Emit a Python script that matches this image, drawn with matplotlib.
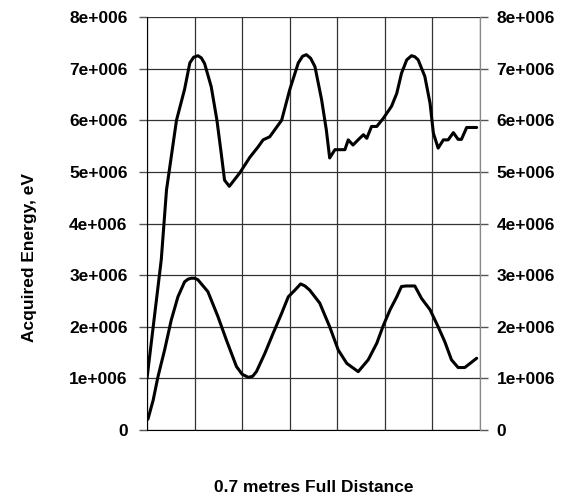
import matplotlib
matplotlib.use("Agg")
import matplotlib.pyplot as plt
from matplotlib.ticker import FuncFormatter, MultipleLocator

plt.rcParams['font.family'] = ['Liberation Sans', 'DejaVu Sans']

# distance in grid intervals (7 intervals = 0.7 m), energy in MeV
upper_x = [0.0, 0.30, 0.41, 0.62, 0.79, 0.90, 0.98, 1.07, 1.14, 1.21, 1.35, 1.47, 1.56, 1.63,
           1.73, 1.95, 2.16, 2.34, 2.44, 2.58, 2.83, 3.0, 3.18, 3.27, 3.35, 3.44, 3.53, 3.67,
           3.77, 3.84, 3.95, 4.16, 4.23, 4.33, 4.47, 4.55, 4.62, 4.72, 4.83, 4.97,
           5.14, 5.25, 5.35, 5.46, 5.56, 5.63, 5.70, 5.84, 5.95, 6.02, 6.12, 6.23, 6.33,
           6.44, 6.54, 6.61, 6.72, 6.93]
upper_e = [1.0, 3.3, 4.65, 6.0, 6.6, 7.11, 7.22, 7.25, 7.21, 7.1, 6.65, 6.0, 5.36, 4.84,
           4.72, 4.98, 5.28, 5.49, 5.62, 5.68, 6.0, 6.59, 7.11, 7.24, 7.27, 7.2, 7.04, 6.40,
           5.81, 5.27, 5.43, 5.43, 5.62, 5.52, 5.65, 5.72, 5.65, 5.88, 5.88, 6.04,
           6.27, 6.52, 6.91, 7.17, 7.25, 7.23, 7.17, 6.85, 6.33, 5.75, 5.46, 5.62, 5.62,
           5.76, 5.63, 5.63, 5.86, 5.86]

lower_x = [0.02, 0.13, 0.23, 0.37, 0.51, 0.65, 0.79, 0.86, 0.93, 1.0, 1.07, 1.28, 1.49, 1.67,
           1.88, 2.0, 2.13, 2.22, 2.30, 2.48, 2.65, 2.83, 2.97, 3.11, 3.23, 3.32, 3.42, 3.63, 3.84,
           4.02, 4.20, 4.44, 4.65, 4.83, 4.97, 5.11, 5.25, 5.35, 5.45, 5.63, 5.77, 5.95,
           6.12, 6.26, 6.40, 6.54, 6.68, 6.93]
lower_e = [0.21, 0.58, 1.03, 1.55, 2.13, 2.58, 2.87, 2.92, 2.94, 2.94, 2.91, 2.68, 2.20, 1.74,
           1.23, 1.08, 1.02, 1.04, 1.13, 1.49, 1.87, 2.26, 2.58, 2.71, 2.83, 2.79, 2.71, 2.46, 2.0,
           1.55, 1.29, 1.13, 1.36, 1.68, 2.03, 2.33, 2.58, 2.78, 2.79, 2.79, 2.55, 2.33,
           2.0, 1.71, 1.36, 1.21, 1.21, 1.39]

n_intervals = 7
y_max = 8e6


def excel_fmt(v, pos):
    if v == 0:
        return "0"
    return f"{int(round(v / 1e6))}e+006"


fig = plt.figure(figsize=(5.68, 4.98), dpi=100)
ax = fig.add_axes([147 / 568, 1 - 430 / 498, 333 / 568, 413 / 498])

ax.plot(upper_x, [e * 1e6 for e in upper_e], color="black", lw=2.2,
        solid_joinstyle="round", solid_capstyle="round")
ax.plot(lower_x, [e * 1e6 for e in lower_e], color="black", lw=2.2,
        solid_joinstyle="round", solid_capstyle="round")

ax.set_xlim(0, n_intervals)
ax.set_ylim(0, y_max)
ax.xaxis.set_major_locator(MultipleLocator(1))
ax.yaxis.set_major_locator(MultipleLocator(1e6))
ax.yaxis.set_major_formatter(FuncFormatter(excel_fmt))
ax.tick_params(axis="x", length=0, labelbottom=False)
ax.tick_params(axis="y", direction="out", length=6, width=1, color="#555555",
               labelsize=12.5, pad=8)
for lab in ax.get_yticklabels():
    lab.set_fontweight("bold")

ax.grid(True, color="#333333", lw=0.9)
ax.set_axisbelow(True)
ax.yaxis.get_gridlines()[-1].set_visible(False)

ax.spines["top"].set_visible(False)
ax.spines["right"].set_color("#888888")
ax.spines["left"].set_color("black")
ax.spines["bottom"].set_color("black")

ax2 = ax.twinx()
ax2.set_ylim(0, y_max)
ax2.yaxis.set_major_locator(MultipleLocator(1e6))
ax2.yaxis.set_major_formatter(FuncFormatter(excel_fmt))
ax2.tick_params(axis="y", direction="out", length=6, width=1, color="#555555",
                labelsize=12.5, pad=6)
for lab in ax2.get_yticklabels():
    lab.set_fontweight("bold")
for s in ["top", "left", "bottom"]:
    ax2.spines[s].set_visible(False)
ax2.spines["right"].set_color("#888888")

ax.set_ylabel("Acquired Energy, eV", fontsize=12.5, fontweight="bold", va="center")
ax.yaxis.set_label_coords((30 - 147) / 333, (430 - 258) / 413)
ax.set_xlabel("0.7 metres Full Distance", fontsize=12.5, fontweight="bold", va="center")
ax.xaxis.set_label_coords(0.5, -(487 - 430) / 413)

fig.savefig("out.png", dpi=100)
